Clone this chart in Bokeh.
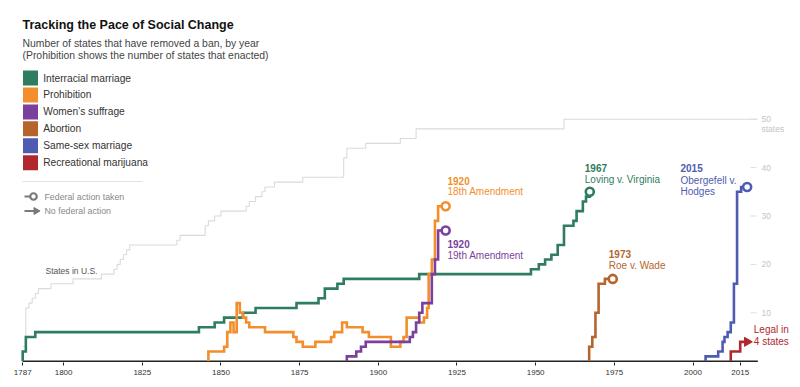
import math
from bokeh.plotting import figure
from bokeh.models import Range1d, FixedTicker
from bokeh.core.properties import value
from bokeh.embed import file_html
from bokeh.resources import INLINE

FONT = "Liberation Sans"

# ---------------- data ----------------
series_names = ["Interracial marriage", "Prohibition", "Women\u2019s suffrage",
                "Abortion", "Same-sex marriage", "Recreational marijuana"]
series_colors = ["#2e7d5e", "#f28f2c", "#7b3f9e", "#b5652c", "#4f5bb0", "#b0282e"]

interracial_years = [1787, 1788, 1791, 1843, 1848, 1851, 1857, 1861, 1874, 1881, 1883,
                     1887, 1889, 1913, 1948.5, 1951, 1953, 1955, 1957, 1959, 1962,
                     1963, 1965, 1966]
interracial_vals = [2, 5, 6, 7, 8, 9, 10, 11, 12, 13, 15, 16, 17, 18, 19, 20, 21, 22,
                    24, 28, 29, 31, 33, 34]

prohibition_years = [1846, 1851, 1852, 1853, 1854, 1855, 1856, 1857, 1858, 1859, 1864,
                     1873, 1874, 1876, 1880, 1885, 1886, 1888.5, 1890, 1895, 1897,
                     1904, 1907, 1908, 1909, 1913, 1914.5, 1915.5, 1916, 1917, 1918,
                     1919]
prohibition_vals = [2, 3, 6, 8, 6, 12, 10, 9, 8, 7, 6, 5, 4, 3, 4, 5, 6, 8, 7, 6, 5,
                    3, 4, 5, 9, 8, 9, 11, 18, 21, 29, 32]

suffrage_years = [1890, 1893, 1894.5, 1896, 1910, 1911, 1912, 1913, 1914, 1917, 1918,
                  1919]
suffrage_vals = [1, 2, 3, 4, 5, 6, 8, 10, 12, 18, 21, 27]

abortion_years = [1967, 1968, 1969, 1970, 1972]
abortion_vals = [3, 5, 10, 16, 17]

samesex_years = [2004, 2008, 2009.4, 2010, 2011, 2012, 2013, 2014, 2015.3]
samesex_vals = [1, 2, 4, 5, 6, 8, 16, 35, 36]

marijuana_years = [2012, 2015]
marijuana_vals = [2, 4]
marijuana_line_end = 2016.4
marijuana_arrow_x = 2017.2

# federal action markers (circle year, value)
federal_x = [1967.2, 1921.4, 1921.4, 1974.5, 2017.2]
federal_y = [35, 32, 27, 17, 36]

states_years = [1787, 1788, 1789, 1790, 1791, 1792, 1796, 1803, 1812, 1816, 1817, 1818,
                1819, 1820, 1821, 1836, 1837, 1845, 1846, 1848, 1850, 1858, 1859, 1861,
                1863, 1864, 1867, 1876, 1889, 1890, 1896, 1907, 1912, 1959]
states_counts = [3, 11, 12, 13, 14, 15, 16, 17, 18, 19, 20, 21, 22, 23, 24, 25, 26, 28,
                 29, 30, 31, 32, 33, 34, 35, 36, 37, 38, 42, 44, 45, 46, 48, 50]

x_ticks = [1787, 1800, 1825, 1850, 1875, 1900, 1925, 1950, 1975, 2000, 2015]
right_ticks = [10, 20, 30, 40, 50]
AXIS_START, AXIS_END = 1787, 2020.6

# ---------------- layout helpers ----------------
ORG = 0              # page offset of the frame's left/top edge
PXY = 3.147          # px per year
PPS = 4.84           # px per state
FW, FH = 800, 362
X0 = 1787 - (22.2 - ORG) / PXY
FRAME_BOTTOM = ORG + FH
Y0 = -(FRAME_BOTTOM - 360.7) / PPS


def dx(px):
    return X0 + (px - ORG) / PXY


def dy(py):
    return Y0 + (FRAME_BOTTOM - py) / PPS


p = figure(frame_width=FW, frame_height=FH,
           x_range=Range1d(X0, X0 + FW / PXY), y_range=Range1d(Y0, Y0 + FH / PPS),
           output_backend="svg", toolbar_location=None, min_border=0,
           y_axis_location=None)
p.outline_line_color = None
p.xgrid.visible = False
p.ygrid.visible = False
p.background_fill_color = "white"
p.border_fill_color = "white"

ax = p.xaxis[0]
ax.ticker = FixedTicker(ticks=x_ticks)
ax.axis_line_color = None
ax.major_tick_line_color = "#222222"
ax.major_tick_out = 3
ax.major_tick_in = 0
ax.minor_tick_line_color = None
ax.major_label_standoff = 4
ax.major_label_text_font = FONT
ax.major_label_text_font_size = "8px"
ax.major_label_text_color = "#333333"

# states in U.S. line
p.step(x=states_years + [AXIS_END], y=states_counts + [states_counts[-1]],
       mode="after", line_color="#dadada", line_width=1.1)
p.text(x=[dx(45)], y=[dy(270)], text=["States in U.S."], text_font=value(FONT),
       text_font_size="8.5px", text_color="#555555", text_baseline="middle",
       text_align="left")

# right axis labels
for t in right_ticks:
    p.segment(x0=[dx(750)], y0=[t], x1=[dx(756)], y1=[t], line_color="#dddddd",
              line_width=1)
p.text(x=[dx(761)] * len(right_ticks), y=right_ticks, text=[str(t) for t in right_ticks],
       text_font=value(FONT), text_font_size="8.5px", text_color="#c4c4c4",
       text_baseline="middle", text_align="left")
p.text(x=[dx(761)], y=[right_ticks[-1]], y_offset=[10], text=["states"],
       text_font=value(FONT), text_font_size="8.5px", text_color="#c4c4c4",
       text_baseline="middle", text_align="left")

# baseline
p.segment(x0=[AXIS_START], y0=[0], x1=[AXIS_END], y1=[0], line_color="#222222",
          line_width=1.6)

LW = 2.6


def draw_series(years, vals, color, end_x, end_val):
    xs = [years[0]] + years + [end_x]
    ys = [0] + vals + [end_val]
    p.step(x=xs, y=ys, mode="after", line_color=color, line_width=LW,
           line_join="miter")


c = series_colors
draw_series(interracial_years, interracial_vals, c[0], federal_x[0], federal_y[0])
draw_series(prohibition_years, prohibition_vals, c[1], federal_x[1], federal_y[1])
draw_series(suffrage_years, suffrage_vals, c[2], federal_x[2], federal_y[2])
draw_series(abortion_years, abortion_vals, c[3], federal_x[3], federal_y[3])
draw_series(samesex_years, samesex_vals, c[4], federal_x[4], federal_y[4])
draw_series(marijuana_years, marijuana_vals, c[5], marijuana_line_end,
            marijuana_vals[-1])

fed_colors = [c[0], c[1], c[2], c[3], c[4]]
p.scatter(x=federal_x, y=federal_y, marker="circle", size=8, fill_color="white",
          line_color=fed_colors, line_width=2.6)
p.scatter(x=[marijuana_arrow_x], y=[marijuana_vals[-1]], marker="triangle",
          angle=-math.pi / 2, size=9, fill_color=c[5], line_color=c[5])

# annotations
annots = [
    (447, 180, "1920", "bold", c[1]), (447, 191.3, "18th Amendment", "normal", c[1]),
    (447, 243.3, "1920", "bold", c[2]), (447, 254.7, "19th Amendment", "normal", c[2]),
    (584.3, 167.3, "1967", "bold", c[0]), (584.3, 179.3, "Loving v. Virginia", "normal", c[0]),
    (608.3, 253.3, "1973", "bold", c[3]), (608.3, 265, "Roe v. Wade", "normal", c[3]),
    (680, 167.7, "2015", "bold", c[4]), (680, 180, "Obergefell v.", "normal", c[4]),
    (680, 191.3, "Hodges", "normal", c[4]),
    (753.3, 329.3, "Legal in", "normal", c[5]), (753.3, 340.7, "4 states", "normal", c[5]),
]
for (px_, py_, txt, style, col) in annots:
    p.text(x=[dx(px_)], y=[dy(py_)], text=[txt], text_font=value(FONT),
           text_font_size="10px", text_font_style=style, text_color=col,
           text_baseline="middle", text_align="left")

# title & subtitle
p.text(x=[dx(22)], y=[dy(24.5)], text=["Tracking the Pace of Social Change"],
       text_font=value(FONT), text_font_size="12.5px", text_font_style="bold",
       text_color="#111111", text_baseline="alphabetic", text_align="left")
p.text(x=[dx(22), dx(22)], y=[dy(43), dy(55)],
       text=["Number of states that have removed a ban, by year",
             "(Prohibition shows the number of states that enacted)"],
       text_font=value(FONT), text_font_size="10.4px", text_color="#444444",
       text_baseline="alphabetic", text_align="left")

# legend
leg_y = [dy(77.5 + 16.95 * i) for i in range(len(series_names))]
p.scatter(x=[dx(30)] * len(series_names), y=leg_y, marker="square", size=15,
          fill_color=series_colors, line_color=None)
p.text(x=[dx(42.7)] * len(series_names), y=leg_y, text=series_names,
       text_font=value(FONT), text_font_size="10.2px", text_color="#333333",
       text_baseline="middle", text_align="left")

p.segment(x0=[dx(22)], y0=[dy(181)], x1=[dx(142)], y1=[dy(181)],
          line_color="#e3e3e3", line_width=1)
ICON = "#7a7a7a"
p.segment(x0=[dx(24)], y0=[dy(196)], x1=[dx(30)], y1=[dy(196)], line_color=ICON,
          line_width=2.2)
p.scatter(x=[dx(33)], y=[dy(196)], marker="circle", size=6.5, fill_color="white",
          line_color=ICON, line_width=2.2)
p.segment(x0=[dx(24)], y0=[dy(210.5)], x1=[dx(34)], y1=[dy(210.5)], line_color=ICON,
          line_width=2.2)
p.scatter(x=[dx(35.5)], y=[dy(210.5)], marker="triangle", angle=-math.pi / 2,
          size=7, fill_color=ICON, line_color=ICON)
p.text(x=[dx(44), dx(44)], y=[dy(196), dy(210.5)],
       text=["Federal action taken", "No federal action"], text_font=value(FONT),
       text_font_size="8.8px", text_color="#888888", text_baseline="middle",
       text_align="left")

open("out.html", "w").write(file_html(p, INLINE))
